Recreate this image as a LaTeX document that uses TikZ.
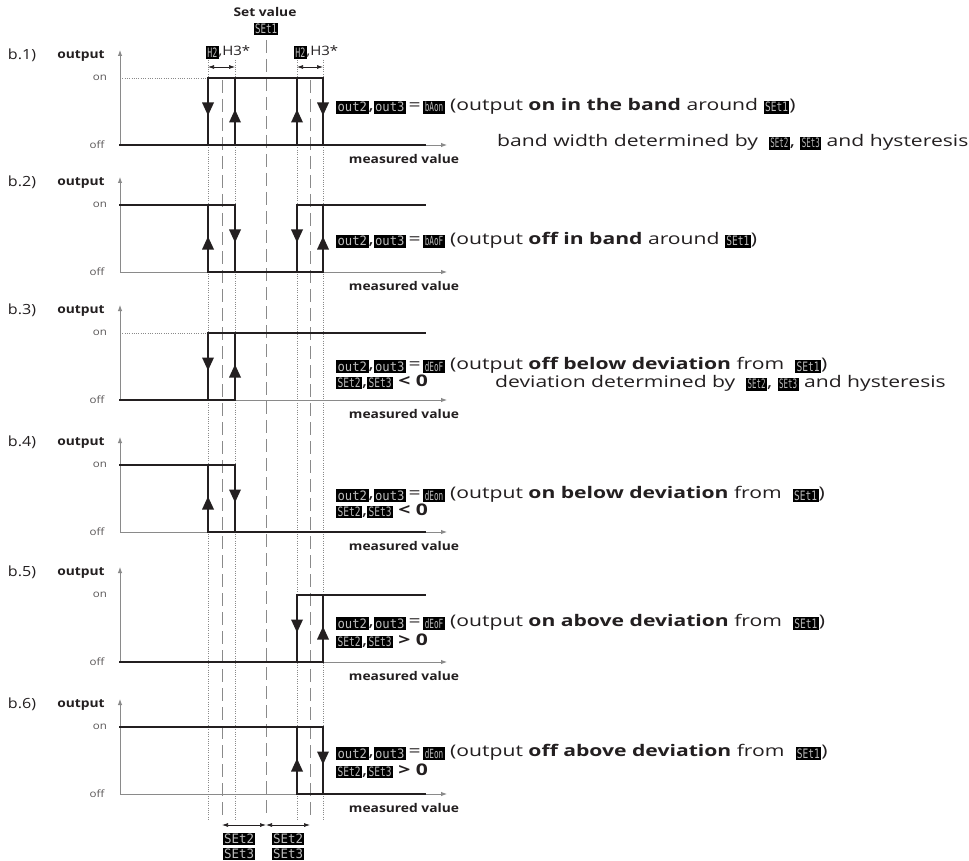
\documentclass[tikz,border=0pt]{standalone}
\usepackage{fontspec}
\setmainfont{Open Sans}[FakeStretch=1.15]
\newfontfamily\descfont{Open Sans}[FakeStretch=1.32]
\newfontfamily\segfont{DejaVu Sans Mono}
\usepackage{graphicx}
\usetikzlibrary{arrows.meta}
\definecolor{ink}{HTML}{231F20}
\definecolor{segc}{HTML}{BDBDBD}
\definecolor{guide}{HTML}{8A8A8A}
\setlength{\fboxsep}{1.4pt}
\newcommand\sg[2][21]{\raisebox{-1.8pt}{\colorbox{black}{\resizebox{#1pt}{9.6pt}{\textcolor{segc}{\segfont #2}}}}}
\newcommand\tdn[2]{\fill[ink] ({#1-6},{#2-9}) -- ({#1+6},{#2-9}) -- (#1,{#2+4}) -- cycle;}
\newcommand\tup[2]{\fill[ink] ({#1-6},{#2+11}) -- ({#1+6},{#2+11}) -- (#1,{#2-2}) -- cycle;}
\newcommand\panel[3]{%
 \node[plab] (lab#3) at (22,{#1-90}) {#2};
 \node[olab] (out#3) at (81,{#1-89}) {output};
 \node[lvl] (on#3) at (100,{#1-67}) {on};
 \node[lvl] (off#3) at (97,#1) {off};
 \coordinate (o#3) at (120,#1);
 \coordinate (yt#3) at (120,{#1-95});
 \coordinate (xt#3) at (447,#1);
 \draw[axis] (o#3) -- (yt#3);
 \draw[axis] (o#3) -- (xt#3);
 \node[mval] (mv#3) at (404,{#1+14}) {measured value};
}
\begin{document}
\begin{tikzpicture}[x=1pt,y=-1pt,
  plab/.style={font=\fontsize{14}{14}\selectfont, text=ink, inner sep=0},
  olab/.style={font=\fontsize{12}{12}\selectfont\bfseries, text=ink, inner sep=0},
  lvl/.style={font=\fontsize{10}{10}\selectfont, text=ink!75, inner sep=0},
  mval/.style={font=\fontsize{12}{12}\selectfont\bfseries, text=ink, inner sep=0},
  desc/.style={anchor=west, font=\descfont\fontsize{16}{16}\selectfont, text=ink, inner sep=0},
  axis/.style={draw=guide, line width=0.9pt, -{Latex[length=6pt,width=4.5pt]}},
  thk/.style={draw=ink, line width=2.6pt, line join=miter, line cap=rect},
  dotg/.style={draw=guide, line width=0.7pt, dash pattern=on 0.7pt off 1.6pt},
  dashg/.style={draw=guide, line width=1pt, dash pattern=on 13pt off 6pt},
  dimarr/.style={draw=ink, line width=0.7pt, {Latex[length=6pt,width=4pt]}-{Latex[length=6pt,width=4pt]}},
  hlab/.style={font=\fontsize{13}{13}\selectfont, text=ink, inner sep=0},
]
\useasboundingbox[fill=white] (0,0) rectangle (969,861);
% guide lines
\foreach \x in {208,235,297,323} \draw[dotg] (\x,60) -- (\x,820);
\foreach \x in {222,310} \draw[dashg] (\x,80) -- (\x,820);
\draw[dashg] (266,40) -- (266,818);
% top labels
\node[olab] (setv) at (265,12) {Set value};
\node[inner sep=0] (set1) at (266,29) {\sg[22]{SEt1}};
\node[hlab] (h2l) at (228,52) {\sg[10]{H2},H3*};
\node[hlab] (h2r) at (316,52) {\sg[10]{H2},H3*};
\coordinate (ha) at (208,67); \coordinate (hb) at (235,67);
\coordinate (hc) at (297,67); \coordinate (hd) at (323,67);
\draw[dimarr] (ha) -- (hb);
\draw[dimarr] (hc) -- (hd);
% panels
\panel{145}{b.1)}{1}
\panel{272}{b.2)}{2}
\panel{400}{b.3)}{3}
\panel{532}{b.4)}{4}
\panel{662}{b.5)}{5}
\panel{794}{b.6)}{6}
% dotted on-levels
\draw[dotg] (120,78) -- (208,78);
\draw[dotg] (120,333) -- (208,333);
% b.1
\draw[thk] (120,145) -- (425,145);
\draw[thk] (208,145) -- (208,78) -- (323,78) -- (323,145);
\draw[thk] (235,145) -- (235,78);
\draw[thk] (297,145) -- (297,78);
\tdn{208}{111.5} \tup{235}{111.5} \tup{297}{111.5} \tdn{323}{111.5}
% b.2
\draw[thk] (120,205) -- (235,205) -- (235,272);
\draw[thk] (208,205) -- (208,272) -- (323,272) -- (323,205);
\draw[thk] (297,272) -- (297,205) -- (425,205);
\tup{208}{238.5} \tdn{235}{238.5} \tdn{297}{238.5} \tup{323}{238.5}
% b.3
\draw[thk] (120,400) -- (235,400) -- (235,333);
\draw[thk] (208,400) -- (208,333) -- (425,333);
\tdn{208}{366.5} \tup{235}{366.5}
% b.4
\draw[thk] (120,465) -- (235,465) -- (235,532);
\draw[thk] (208,465) -- (208,532) -- (425,532);
\tup{208}{498.5} \tdn{235}{498.5}
% b.5
\draw[thk] (120,662) -- (323,662) -- (323,595);
\draw[thk] (297,662) -- (297,595) -- (425,595);
\tdn{297}{628.5} \tup{323}{628.5}
% b.6
\draw[thk] (120,727) -- (323,727) -- (323,794);
\draw[thk] (297,727) -- (297,794) -- (425,794);
\tup{297}{760.5} \tdn{323}{760.5}
% descriptions
\node[desc] (t1) at (336,106) {\sg[29.5]{out2},\sg[29.5]{out3}\,=\,\sg[18.5]{bAon} (output \textbf{on in the band} around \sg[23]{SEt1})};
\node[desc] (t1b) at (497,142) {band width determined by \ \sg[18]{SEt2}, \sg[18]{SEt3} and hysteresis};
\node[desc] (t2) at (336,240) {\sg[29.5]{out2},\sg[29.5]{out3}\,=\,\sg[18.5]{bAoF} (output \textbf{off in band} around \sg[23]{SEt1})};
\node[desc] (t3) at (336,365) {\sg[29.5]{out2},\sg[29.5]{out3}\,=\,\sg[18.5]{dEoF} (output \textbf{off below deviation} from \ \sg[23]{SEt1})};
\node[desc] (t3b) at (336,382) {\sg[23]{SEt2},\sg[23]{SEt3} \textbf{< 0}};
\node[desc] (t3c) at (495,383) {deviation determined by \ \sg[18]{SEt2}, \sg[18]{SEt3} and hysteresis};
\node[desc] (t4) at (336,494) {\sg[29.5]{out2},\sg[29.5]{out3}\,=\,\sg[18.5]{dEon} (output \textbf{on below deviation} from \ \sg[23]{SEt1})};
\node[desc] (t4b) at (336,511) {\sg[23]{SEt2},\sg[23]{SEt3} \textbf{< 0}};
\node[desc] (t5) at (336,622) {\sg[29.5]{out2},\sg[29.5]{out3}\,=\,\sg[18.5]{dEoF} (output \textbf{on above deviation} from \ \sg[23]{SEt1})};
\node[desc] (t5b) at (336,641) {\sg[23]{SEt2},\sg[23]{SEt3} \textbf{> 0}};
\node[desc] (t6) at (336,752) {\sg[29.5]{out2},\sg[29.5]{out3}\,=\,\sg[18.5]{dEon} (output \textbf{off above deviation} from \ \sg[23]{SEt1})};
\node[desc] (t6b) at (336,771) {\sg[23]{SEt2},\sg[23]{SEt3} \textbf{> 0}};
% bottom set dimension arrows
\coordinate (s1) at (222,825); \coordinate (s2) at (266,825); \coordinate (s3) at (310,825);
\draw[dimarr] (s1) -- (s2);
\draw[dimarr] (s2) -- (s3);
\node[inner sep=0] (bl2) at (239,839) {\sg[30]{SEt2}};
\node[inner sep=0] (bl3) at (239,854) {\sg[30]{SEt3}};
\node[inner sep=0] (br2) at (288,839) {\sg[30]{SEt2}};
\node[inner sep=0] (br3) at (288,854) {\sg[30]{SEt3}};
\end{tikzpicture}
\end{document}
